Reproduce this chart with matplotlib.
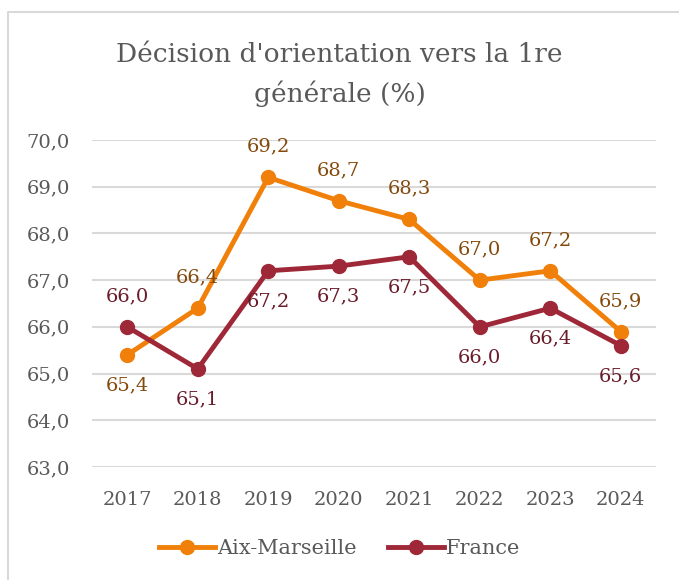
import matplotlib
matplotlib.use("Agg")
import matplotlib.pyplot as plt
from matplotlib.lines import Line2D

years = ["2017", "2018", "2019", "2020", "2021", "2022", "2023", "2024"]
aix = [65.4, 66.4, 69.2, 68.7, 68.3, 67.0, 67.2, 65.9]
france = [66.0, 65.1, 67.2, 67.3, 67.5, 66.0, 66.4, 65.6]
aix_label_pos = ["below", "above", "above", "above", "above", "above", "above", "above"]
france_label_pos = ["above", "below", "below", "below", "below", "below", "below", "below"]
yticks = [63.0, 64.0, 65.0, 66.0, 67.0, 68.0, 69.0, 70.0]

W, H = 679, 580
fig = plt.figure(figsize=(W / 100, H / 100), dpi=100)
plt.rcParams["font.family"] = ["DejaVu Serif"]

# plot area in pixels: x 92..656, y 140 (70,0) .. 467 (63,0)
ax = fig.add_axes([92 / W, 1 - 467 / H, (656 - 92) / W, (467 - 140) / H])
x = list(range(len(years)))
c_aix, c_fr = "#F0800A", "#9E2838"
lab_aix, lab_fr = "#844A0C", "#6A1C2A"
grey = "#595959"

ax.plot(x, aix, color=c_aix, lw=3.5, marker="o", ms=10, zorder=3)
ax.plot(x, france, color=c_fr, lw=3.5, marker="o", ms=10, zorder=3)

for vals, pos, col in ((aix, aix_label_pos, lab_aix), (france, france_label_pos, lab_fr)):
    for xi, v, p in zip(x, vals, pos):
        off = 22 if p == "above" else -22
        ax.annotate(f"{v:.1f}".replace(".", ","), (xi, v), xytext=(0, off),
                    textcoords="offset points", ha="center", va="center",
                    fontsize=14, color=col)

ax.set_ylim(63.0, 70.0)
ax.set_xlim(-0.5, len(years) - 0.5)
ax.set_yticks(yticks)
ax.set_yticklabels([f"{t:.1f}".replace(".", ",") for t in yticks])
ax.set_xticks(x)
ax.set_xticklabels(years)
ax.tick_params(length=0, labelsize=14, labelcolor=grey)
ax.tick_params(axis="x", pad=17)
ax.tick_params(axis="y", pad=16)
ax.grid(axis="y", color="#D9D9D9", lw=1.5)
ax.set_axisbelow(True)
for s in ax.spines.values():
    s.set_visible(False)

fig.text(0.5, 1 - 62 / H, "Décision d'orientation vers la 1re",
         ha="center", va="baseline", fontsize=19, color=grey)
fig.text(0.5, 1 - 102 / H, "générale (%)",
         ha="center", va="baseline", fontsize=19, color=grey)

handles = [
    Line2D([], [], color=c_aix, lw=3.5, marker="o", ms=10),
    Line2D([], [], color=c_fr, lw=3.5, marker="o", ms=10),
]
fig.legend(handles, ["Aix-Marseille", "France"], loc="center",
           bbox_to_anchor=(0.5, 1 - 549 / H), ncol=2, frameon=False,
           fontsize=15, labelcolor=grey, handlelength=2.7,
           handletextpad=0.1, columnspacing=1.5)

# light frame of the chart area (top and left edges visible)
fig.add_artist(Line2D([7.5 / W, 7.5 / W, 1], [0, 1 - 11.5 / H, 1 - 11.5 / H],
                      color="#D9D9D9", lw=1.5, transform=fig.transFigure))

fig.savefig("out.png", dpi=100)
